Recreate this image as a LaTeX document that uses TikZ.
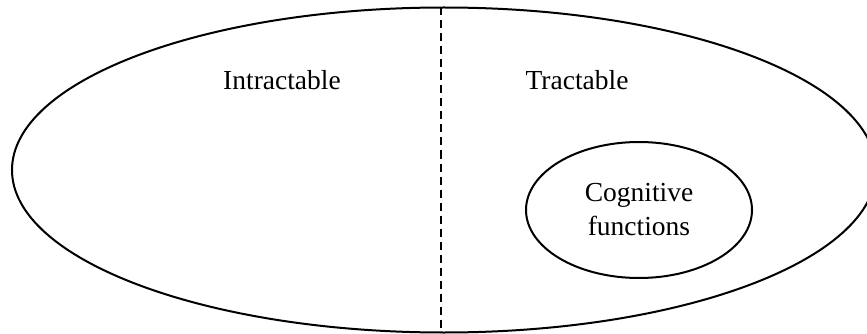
\documentclass[tikz,border=0pt]{standalone}
\usepackage{fontspec}
\setmainfont{Liberation Serif}
\usetikzlibrary{shapes.geometric}
\begin{document}
\begin{tikzpicture}[x=1pt,y=-1pt,
  outline/.style={draw, ellipse, line width=2pt, inner sep=0pt},
  label/.style={font=\fontsize{27.5}{34}\selectfont, inner sep=0pt, anchor=base},
  divider/.style={line width=2pt, dash pattern=on 8pt off 5pt}]
\useasboundingbox (0,0) rectangle (867,334);
\clip (0,0) rectangle (867,334);
\node[outline, minimum width=864pt, minimum height=325pt] (outer) at (444,170) {};
\coordinate (dtop) at ([xshift=-3pt,yshift=-1pt]outer.north);
\coordinate (dbot) at ([xshift=-3pt,yshift=1pt]outer.south);
\draw[divider] (dtop) -- (dbot);
\node[label] (intr) at (282,90) {Intractable};
\node[label] (tr) at (577,90) {Tractable};
\node[outline, minimum width=226pt, minimum height=136pt, align=center,
  font=\fontsize{27.5}{34}\selectfont] (cog) at (639,210) {Cognitive\\functions};
\end{tikzpicture}
\end{document}
